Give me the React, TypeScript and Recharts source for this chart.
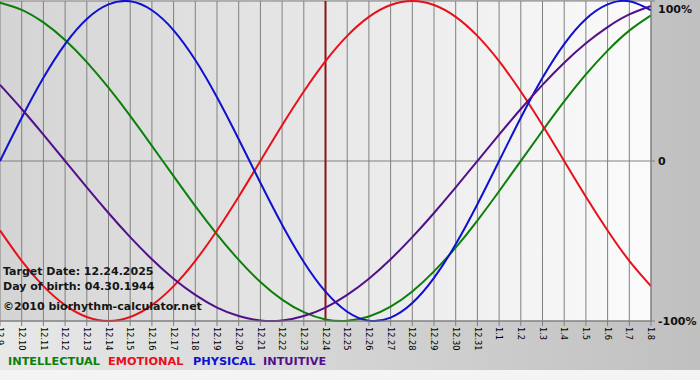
import React from "react";
import {
  LineChart,
  Line,
  CartesianGrid,
  XAxis,
  YAxis,
  ReferenceLine,
} from "recharts";

const dates = [
  "12.9", "12.10", "12.11", "12.12", "12.13", "12.14", "12.15", "12.16",
  "12.17", "12.18", "12.19", "12.20", "12.21", "12.22", "12.23", "12.24",
  "12.25", "12.26", "12.27", "12.28", "12.29", "12.30", "12.31", "1.1",
  "1.2", "1.3", "1.4", "1.5", "1.6", "1.7", "1.8",
];

const intellectual = [
  0.99, 0.945, 0.866, 0.756, 0.618, 0.458, 0.282, 0.095, -0.095, -0.282,
  -0.458, -0.618, -0.756, -0.866, -0.945, -0.99, -0.999, -0.972, -0.91,
  -0.815, -0.69, -0.541, -0.372, -0.189, 0, 0.189, 0.372, 0.541, 0.69,
  0.815, 0.91,
];

const emotional = [
  -0.434, -0.624, -0.782, -0.901, -0.975, -1, -0.975, -0.901, -0.782,
  -0.624, -0.434, -0.223, 0, 0.223, 0.434, 0.624, 0.782, 0.901, 0.975, 1,
  0.975, 0.901, 0.782, 0.624, 0.434, 0.223, 0, -0.223, -0.434, -0.624,
  -0.782,
];

const physical = [
  0, 0.27, 0.52, 0.731, 0.888, 0.979, 0.998, 0.942, 0.817, 0.631, 0.398,
  0.136, -0.136, -0.398, -0.631, -0.817, -0.942, -0.998, -0.979, -0.888,
  -0.731, -0.52, -0.27, 0, 0.27, 0.52, 0.731, 0.888, 0.979, 0.998, 0.942,
];

const intuitive = [
  0.476, 0.325, 0.165, 0, -0.165, -0.325, -0.476, -0.614, -0.736, -0.837,
  -0.916, -0.969, -0.997, -0.997, -0.969, -0.916, -0.837, -0.736, -0.614,
  -0.476, -0.325, -0.165, 0, 0.165, 0.325, 0.476, 0.614, 0.736, 0.837,
  0.916, 0.969,
];

const yTicks = [-1, 0, 1];
const yLabels: Record<string, string> = { "-1": "-100%", "0": "0", "1": "100%" };
const targetIndex = 15;

const legendItems = [
  { name: "INTELLECTUAL", color: "#0a800a", left: 8 },
  { name: "EMOTIONAL", color: "#e8101a", left: 108 },
  { name: "PHYSICAL", color: "#1010d0", left: 193 },
  { name: "INTUITIVE", color: "#52108a", left: 263 },
];

const data = dates.map((_, i) => ({
  d: i,
  intellectual: intellectual[i],
  emotional: emotional[i],
  physical: physical[i],
  intuitive: intuitive[i],
}));

const font = "Verdana, 'DejaVu Sans', sans-serif";

const XTick = (props: any) => {
  const { x, y, payload } = props;
  return (
    <g transform={`translate(${x},${y})`}>
      <text
        transform="rotate(90)"
        x={0}
        y={0}
        dy="0.35em"
        textAnchor="start"
        fontSize={8.2}
        fontFamily={font}
        fill="#000"
      >
        {dates[payload.value]}
      </text>
    </g>
  );
};

const YTick = (props: any) => {
  const { x, y, payload } = props;
  const ty = Math.max(y, 7);
  return (
    <text
      x={x + 3}
      y={ty}
      dy="0.36em"
      fontSize={11}
      fontWeight="bold"
      fontFamily={font}
      fill="#111"
    >
      {yLabels[String(payload.value)]}
    </text>
  );
};

const infoStyle: React.CSSProperties = {
  position: "absolute",
  left: 3,
  fontFamily: font,
  fontSize: 11,
  fontWeight: "bold",
  color: "#151515",
  whiteSpace: "nowrap",
  lineHeight: "13px",
};

const App = () => {
  return (
    <div
      style={{
        position: "absolute",
        left: 0,
        top: 0,
        width: 700,
        height: 380,
        background:
          "linear-gradient(to bottom, transparent 370px, #f4f4f4 370px), linear-gradient(to right, #e8e8e8, #c0c0c0)",
      }}
    >
      <LineChart
        width={700}
        height={380}
        data={data}
        margin={{ top: 1, right: 0, bottom: 0, left: 0 }}
      >
        <defs>
          <linearGradient id="plotBg" x1="0" y1="0" x2="1" y2="0">
            <stop offset="0%" stopColor="#d4d4d4" />
            <stop offset="100%" stopColor="#fbfbfb" />
          </linearGradient>
        </defs>
        <CartesianGrid
          stroke="#808080"
          strokeWidth={1}
          fill="url(#plotBg)"
          fillOpacity={1}
        />
        <XAxis
          dataKey="d"
          type="number"
          domain={[0, 30]}
          ticks={dates.map((_, i) => i)}
          interval={0}
          height={59}
          stroke="#808080"
          tickSize={5}
          tickMargin={1}
          tick={<XTick />}
        />
        <YAxis
          orientation="right"
          domain={[-1, 1]}
          ticks={yTicks}
          width={49}
          stroke="#808080"
          tickSize={4}
          tickMargin={0}
          tick={<YTick />}
        />
        <ReferenceLine x={targetIndex} stroke="#8a1414" strokeWidth={2} />
        <Line
          dataKey="intellectual"
          type="natural"
          stroke="#0a800a"
          strokeWidth={2}
          dot={false}
          isAnimationActive={false}
        />
        <Line
          dataKey="emotional"
          type="natural"
          stroke="#e8101a"
          strokeWidth={2}
          dot={false}
          isAnimationActive={false}
        />
        <Line
          dataKey="physical"
          type="natural"
          stroke="#1010d0"
          strokeWidth={2}
          dot={false}
          isAnimationActive={false}
        />
        <Line
          dataKey="intuitive"
          type="natural"
          stroke="#52108a"
          strokeWidth={2}
          dot={false}
          isAnimationActive={false}
        />
      </LineChart>
      <div style={{ ...infoStyle, top: 265 }}>Target Date: 12.24.2025</div>
      <div style={{ ...infoStyle, top: 280 }}>Day of birth: 04.30.1944</div>
      <div style={{ ...infoStyle, top: 300 }}>©2010 biorhythm-calculator.net</div>
      {legendItems.map((item) => (
        <div
          key={item.name}
          style={{
            position: "absolute",
            left: item.left,
            top: 355,
            fontFamily: font,
            fontSize: 11.3,
            fontWeight: "bold",
            color: item.color,
            lineHeight: "13px",
            whiteSpace: "nowrap",
          }}
        >
          {item.name}
        </div>
      ))}
    </div>
  );
};

export default App;
